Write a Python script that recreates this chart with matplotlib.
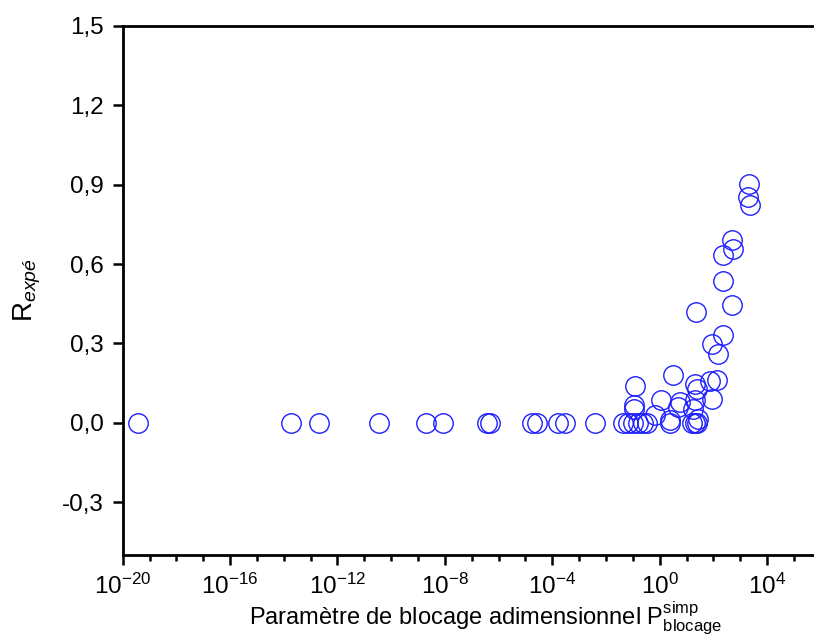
import numpy as np
import matplotlib
matplotlib.use('Agg')
import matplotlib.pyplot as plt
from matplotlib.ticker import FixedLocator, FuncFormatter, NullLocator

plt.rcParams['font.family'] = ['Liberation Sans', 'DejaVu Sans']
plt.rcParams['mathtext.fontset'] = 'custom'
plt.rcParams['mathtext.rm'] = 'Liberation Sans'
plt.rcParams['mathtext.it'] = 'Liberation Sans:italic'
plt.rcParams['mathtext.bf'] = 'Liberation Sans:bold'

# points lying on R = 0 (log10 of the blocking parameter)
log_p_zero = [-19.43, -13.73, -12.69, -10.45, -8.70, -8.07, -6.43, -6.31,
              -4.76, -4.57, -3.79, -3.53, -2.41, -1.37, -1.18, -0.99,
              -0.81, -0.62, -0.47, 0.38, 1.20, 1.31, 1.38]
r_zero = [0.0] * len(log_p_zero)

# points above zero
log_p_up = [3.32, 3.29, 3.36, 2.69, 2.73, 2.36, 2.36, 2.69, 1.35, 2.36,
            1.95, 2.17, 0.50, 2.13, 1.87, 1.31, -0.92, 1.39, 1.31, 1.95,
            0.06, 0.77, 0.69, -0.95, -0.95, -0.17, 0.38, 1.42, 1.24]
r_up = [0.904, 0.855, 0.824, 0.691, 0.657, 0.634, 0.536, 0.444, 0.418, 0.330,
        0.296, 0.258, 0.182, 0.163, 0.156, 0.148, 0.140, 0.129, 0.087, 0.091,
        0.087, 0.080, 0.061, 0.068, 0.053, 0.030, 0.011, 0.015, 0.053]

p = 10.0 ** np.array(log_p_zero + log_p_up)
r = np.array(r_zero + r_up)

fig = plt.figure(figsize=(8.14, 6.43), dpi=100)
# right edge of the frame falls outside the picture, as in the original
ax = fig.add_axes([0.1507, 0.1369, 0.8907, 0.8227])

ax.plot(p, r, linestyle='none', marker='o', markersize=14,
        markerfacecolor='none', markeredgecolor='#1f1fff', markeredgewidth=1.0)

ax.set_xscale('log')
ax.set_xlim(1e-20, 1e7)
ax.set_ylim(-0.5, 1.5)

ax.xaxis.set_major_locator(FixedLocator([10.0 ** e for e in range(-20, 5, 4)]))
ax.xaxis.set_minor_locator(FixedLocator([10.0 ** e for e in range(-20, 8)]))
ax.xaxis.set_major_formatter(FuncFormatter(lambda v, pos: r'$\mathregular{10^{%d}}$' % round(np.log10(v))))
ax.xaxis.set_minor_formatter(FuncFormatter(lambda v, pos: ''))

ax.yaxis.set_major_locator(FixedLocator([-0.3, 0.0, 0.3, 0.6, 0.9, 1.2, 1.5]))
ax.yaxis.set_minor_locator(NullLocator())
ax.yaxis.set_major_formatter(FuncFormatter(lambda v, pos: ('%.1f' % v).replace('.', ',')))

for s in ax.spines.values():
    s.set_linewidth(2.0)

ax.tick_params(which='major', direction='out', length=7.5, width=1.8, labelsize=17.5, pad=6)
ax.tick_params(which='minor', direction='out', length=4, width=1.8)

ax.set_xlabel(r'Paramètre de blocage adimensionnel $\mathregular{P^{simp}_{blocage}}$', fontsize=17, labelpad=0)
ax.set_ylabel(r'$\mathregular{R}_{\mathit{expé}}$', fontsize=20, labelpad=14)

fig.savefig('out.png', dpi=100)
